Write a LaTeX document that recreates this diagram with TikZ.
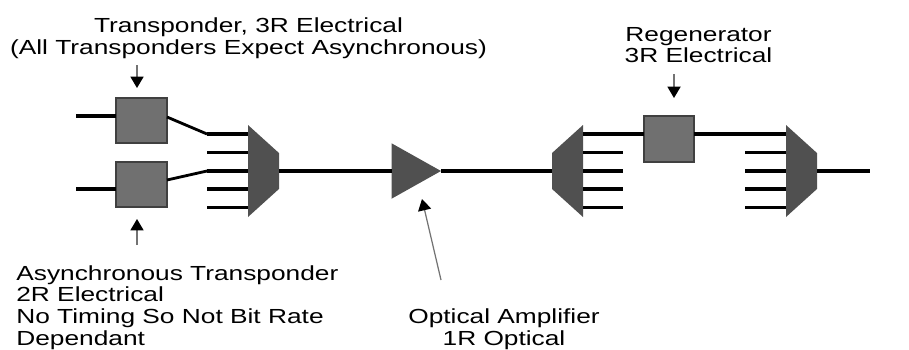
\documentclass[tikz,border=0pt]{standalone}
\usepackage{fontspec}
\setmainfont[FakeStretch=1.29]{Liberation Sans}
\usetikzlibrary{shapes.geometric, arrows.meta}
\definecolor{boxgray}{RGB}{112, 112, 112}
\definecolor{muxgray}{RGB}{80, 80, 80}
\tikzset{
  unitbox/.style={
    rectangle,
    draw=black!75,
    fill=boxgray,
    line width=0.6pt,
    inner sep=0pt,
    outer sep=0pt},
  muxright/.style={
    trapezium,
    shape border rotate=270,
    trapezium angle=52,
    trapezium stretches=true,
    minimum width=1.84cm,
    minimum height=0.62cm,
    fill=muxgray,
    inner sep=1pt,
    outer sep=0pt},
  muxleft/.style={muxright, shape border rotate=90},
  amplifier/.style={
    isosceles triangle,
    isosceles triangle apex angle=58.6,
    isosceles triangle stretches,
    minimum width=1.11cm,
    minimum height=0.99cm,
    fill=muxgray,
    inner sep=1pt,
    outer sep=0pt},
  fibre/.style={line width=2pt},
  pointer/.style={draw=black!55, line width=0.7pt, -{Triangle[width=7.5pt,length=6.5pt,color=black]}},
  caption/.style={align=center, font=\fontsize{11.6}{12.4}\selectfont, inner sep=0pt}
}

\begin{document}
\begin{tikzpicture}[x=0.02cm, y=-0.02cm]
  \useasboundingbox (0,0) rectangle (909,349);

  % Left transponders
  \node (txtop) [unitbox, minimum width=1.02cm, minimum height=0.9cm] at (141.5,120.5) {};
  \node (txbot) [unitbox, minimum width=1.02cm, minimum height=0.9cm] at (141.5,184.5) {};
  \coordinate (intop) at (76,116);
  \coordinate (inbot) at (76,189);
  \draw[fibre] (intop) -- (intop -| txtop.west);
  \draw[fibre] (inbot) -- (inbot -| txbot.west);

  % Multiplexer, amplifier, demultiplexer
  \node (muxa) [muxright] at (263.5,171) {};
  \node (amp) [amplifier, anchor=apex] at (441,171) {};
  \node (demux) [muxleft] at (567.5,171) {};
  \node (muxb) [muxright] at (801.5,171) {};
  \coordinate (outb) at (870,171);
  \draw[fibre] (muxa.east) -- (amp.west);
  \draw[fibre] (amp.apex) -- (demux.west);
  \draw[fibre] (muxb.east) -- (outb);

  % Stubs at the channel side
  \foreach \name/\ypos in {a/134, b/152.5, c/171, d/189, e/207.5} {
    \coordinate (muxa\name) at (248,\ypos);
    \coordinate (stuba\name) at (207,\ypos);
    \coordinate (demux\name) at (583,\ypos);
    \coordinate (stubd\name) at (623,\ypos);
    \coordinate (muxb\name) at (786,\ypos);
    \coordinate (stubb\name) at (745,\ypos);
    \draw[fibre] (stuba\name) -- (muxa\name);
    \draw[fibre] (muxb\name) -- (stubb\name);
  }
  \foreach \name in {b, c, d, e} {
    \draw[fibre] (demux\name) -- (stubd\name);
  }

  % Regenerator
  \node (regen) [unitbox, minimum width=1cm, minimum height=0.92cm] at (669,139) {};
  \draw[fibre] (demuxa) -- (demuxa -| regen.west);
  \draw[fibre] (demuxa -| regen.east) -- (muxba);

  % Transponders into the multiplexer
  \draw[line width=1.6pt] (167,117) -- (stubaa);
  \draw[line width=1.6pt] (167,180) -- (stubac);

  % Pointers
  \coordinate (pta) at (137,65);
  \coordinate (ptb) at (137,245);
  \coordinate (ptc) at (674,74);
  \coordinate (ptd) at (441,280);
  \draw[pointer] (pta) -- (137,88);
  \draw[pointer] (ptb) -- (137,219);
  \draw[pointer] (ptc) -- (674,98);
  \draw[pointer] (ptd) -- (422,199);

  % Labels
  \node (txlabel) [caption] at (248.5,38) {Transponder, 3R Electrical\\(All Transponders Expect Asynchronous)};
  \node (regenlabel) [caption] at (698.5,45) {Regenerator\\3R Electrical};
  \node (asynclabel) [caption, align=left, anchor=north west] at (16,265) {Asynchronous Transponder\\2R Electrical\\No Timing So Not Bit Rate\\Dependant};
  \node (amplabel) [caption] at (504,329) {Optical Amplifier\\1R Optical};
\end{tikzpicture}
\end{document}
